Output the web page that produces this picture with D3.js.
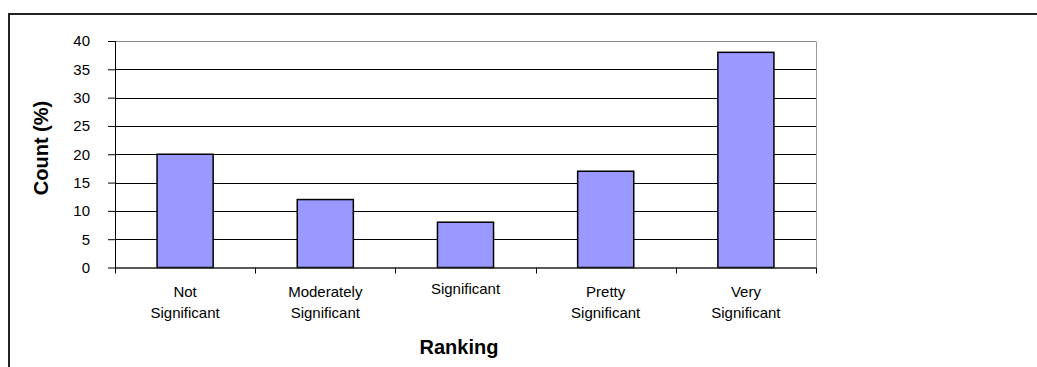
<!DOCTYPE html>
<html>
<head>
<meta charset="utf-8">
<script src="https://cdn.jsdelivr.net/npm/d3@7"></script>
<style>
  html, body { margin: 0; padding: 0; background: #fff; }
  svg { display: block; font-family: "Liberation Sans", Arial, sans-serif; }
</style>
</head>
<body>
<svg id="chart" width="1037" height="367"></svg>
<script>
// Survey ranking responses, percent of respondents per category
const categories = ["Not Significant", "Moderately Significant", "Significant", "Pretty Significant", "Very Significant"];
const categoryLines = [["Not", "Significant"], ["Moderately", "Significant"], ["Significant"], ["Pretty", "Significant"], ["Very", "Significant"]];
const counts = [20, 12, 8, 17, 38];
const yTicks = [0, 5, 10, 15, 20, 25, 30, 35, 40];

const svg = d3.select("#chart");

// Outer chart frame (open to the right and bottom)
svg.append("path")
  .attr("d", "M9,367 V14 H1037")
  .attr("fill", "none")
  .attr("stroke", "#222")
  .attr("stroke-width", 2);

const plot = { left: 115, right: 816, top: 41, bottom: 267.5 };

const x = d3.scaleBand()
  .domain(categories)
  .range([plot.left, plot.right])
  .paddingInner(0.6)
  .paddingOuter(0.3);

const y = d3.scaleLinear()
  .domain([0, 40])
  .range([plot.bottom, plot.top]);

// Horizontal gridlines
svg.append("g")
  .selectAll("line")
  .data(yTicks.filter(d => d > 0))
  .join("line")
  .attr("x1", plot.left).attr("x2", plot.right)
  .attr("y1", d => Math.round(y(d)) + 0.5).attr("y2", d => Math.round(y(d)) + 0.5)
  .attr("stroke", d => d === 40 ? "#888" : "#000")
  .attr("stroke-width", 1);

// Right border of plot area
svg.append("line")
  .attr("x1", plot.right + 0.5).attr("x2", plot.right + 0.5)
  .attr("y1", Math.round(y(40)) + 0.5).attr("y2", plot.bottom)
  .attr("stroke", "#999");

// Bars
svg.append("g")
  .selectAll("rect")
  .data(counts)
  .join("rect")
  .attr("x", (d, i) => x(categories[i]))
  .attr("width", x.bandwidth())
  .attr("y", d => y(d))
  .attr("height", d => plot.bottom - y(d))
  .attr("fill", "#9999FF")
  .attr("stroke", "#000")
  .attr("stroke-width", 1.5);

// Y axis
const yAxis = d3.axisLeft(y)
  .tickValues(yTicks)
  .tickSize(7)
  .tickPadding(18);
const gy = svg.append("g")
  .attr("transform", `translate(${plot.left},0)`)
  .call(yAxis);
gy.select(".domain").attr("stroke", "#000").attr("d", `M0.5,${plot.top}V${plot.bottom + 4}`);
gy.selectAll(".tick line").attr("stroke", "#000").attr("x1", 0);
gy.selectAll(".tick text")
  .attr("font-size", 15)
  .attr("font-family", "Liberation Sans, Arial, sans-serif")
  .attr("fill", "#000");

// X axis baseline with ticks at category boundaries
const boundaries = d3.range(categories.length + 1).map(i => plot.left + i * (plot.right - plot.left) / categories.length);
svg.append("line")
  .attr("x1", plot.left).attr("x2", plot.right)
  .attr("y1", plot.bottom + 0.5).attr("y2", plot.bottom + 0.5)
  .attr("stroke", "#222").attr("stroke-width", 1.5);
svg.append("g")
  .selectAll("line")
  .data(boundaries)
  .join("line")
  .attr("x1", d => Math.round(d) + 0.5).attr("x2", d => Math.round(d) + 0.5)
  .attr("y1", plot.bottom).attr("y2", plot.bottom + 6)
  .attr("stroke", "#000");

// Category labels
const labels = svg.append("g")
  .attr("font-size", 15)
  .attr("text-anchor", "middle")
  .attr("fill", "#000");
categoryLines.forEach((lines, i) => {
  const cx = x(categories[i]) + x.bandwidth() / 2;
  const t = labels.append("text").attr("x", cx);
  const y0 = lines.length === 1 ? 294 : 297;
  lines.forEach((ln, j) => {
    t.append("tspan").attr("x", cx).attr("y", y0 + j * 21).text(ln);
  });
});

// Axis titles
svg.append("text")
  .attr("x", 459).attr("y", 354)
  .attr("text-anchor", "middle")
  .attr("font-size", 20).attr("font-weight", "bold")
  .text("Ranking");

svg.append("text")
  .attr("transform", "translate(48,148) rotate(-90)")
  .attr("text-anchor", "middle")
  .attr("font-size", 20).attr("font-weight", "bold")
  .text("Count (%)");
</script>
</body>
</html>
